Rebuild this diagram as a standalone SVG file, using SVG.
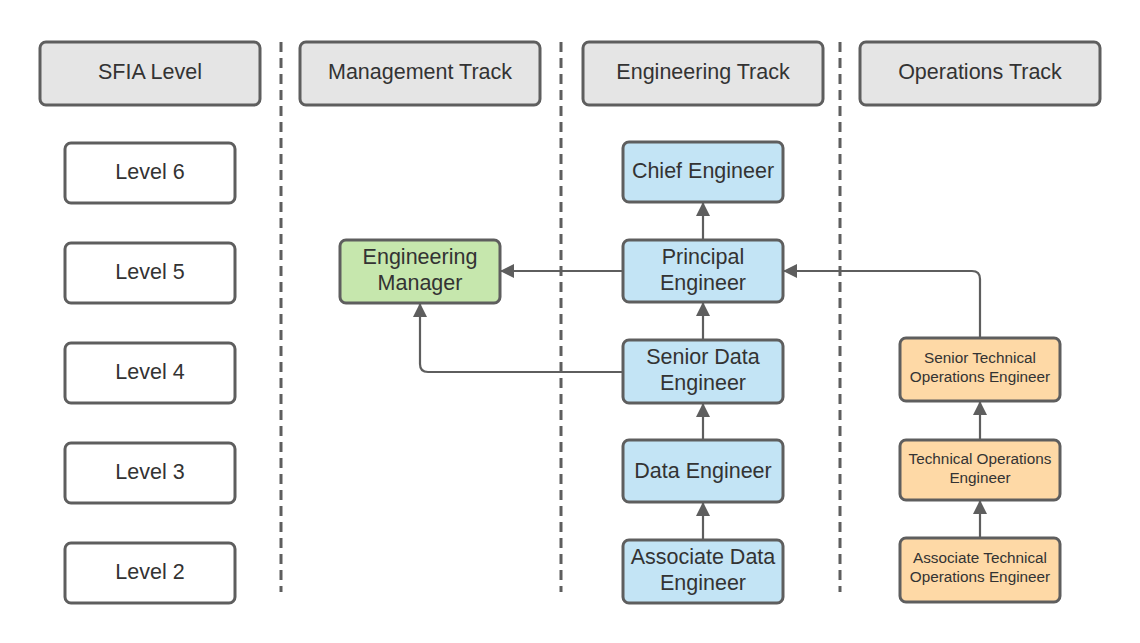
<svg xmlns="http://www.w3.org/2000/svg" width="1140" height="643" viewBox="0 0 1140 643">
<defs>
<style>
.hdr{fill:#e5e5e5;stroke:#5e5e5e;stroke-width:3}
.lvl{fill:#ffffff;stroke:#5e5e5e;stroke-width:3}
.eng{fill:#c3e4f5;stroke:#5e5e5e;stroke-width:3}
.mgr{fill:#c6e7ad;stroke:#5e5e5e;stroke-width:3}
.ops{fill:#fed9a6;stroke:#5e5e5e;stroke-width:3}
text{font-family:"Liberation Sans",Arial,sans-serif;fill:#333333;text-anchor:middle}
.t20{font-size:21.5px}
.t14{font-size:15.3px}
.dash{stroke:#5e5e5e;stroke-width:3;stroke-dasharray:10 6;fill:none}
.conn{stroke:#5e5e5e;stroke-width:2.2;fill:none}
</style>
<marker id="arr" viewBox="0 0 14 14" refX="13" refY="7" markerWidth="14" markerHeight="14" markerUnits="userSpaceOnUse" orient="auto">
<path d="M0,0 L14,7 L0,14 Z" fill="#5e5e5e"/>
</marker>
</defs>
<rect width="1140" height="643" fill="#ffffff"/>

<g id="headers">
<g id="h-sfia"><rect class="hdr" x="40" y="42" width="220" height="63" rx="6"/><text class="t20" x="150" y="79">SFIA Level</text></g>
<g id="h-mgmt"><rect class="hdr" x="300" y="42" width="240" height="63" rx="6"/><text class="t20" x="420" y="79">Management Track</text></g>
<g id="h-eng"><rect class="hdr" x="583" y="42" width="240" height="63" rx="6"/><text class="t20" x="703" y="79">Engineering Track</text></g>
<g id="h-ops"><rect class="hdr" x="860" y="42" width="240" height="63" rx="6"/><text class="t20" x="980" y="79">Operations Track</text></g>
</g>

<g id="connectors">
<line class="conn" x1="703" y1="240" x2="703" y2="203" marker-end="url(#arr)"/>
<line class="conn" x1="623" y1="271" x2="501" y2="271" marker-end="url(#arr)"/>
<path class="conn" d="M623,372 L428,372 Q420,372 420,364 L420,304" marker-end="url(#arr)"/>
<line class="conn" x1="703" y1="340" x2="703" y2="303" marker-end="url(#arr)"/>
<line class="conn" x1="703" y1="440" x2="703" y2="404" marker-end="url(#arr)"/>
<line class="conn" x1="703" y1="540" x2="703" y2="503" marker-end="url(#arr)"/>
<path class="conn" d="M980,338 L980,279 Q980,271 972,271 L784,271" marker-end="url(#arr)"/>
<line class="conn" x1="980" y1="440" x2="980" y2="402" marker-end="url(#arr)"/>
<line class="conn" x1="980" y1="538" x2="980" y2="501" marker-end="url(#arr)"/>
</g>

<g id="dividers">
<line class="dash" x1="281" y1="42" x2="281" y2="592"/>
<line class="dash" x1="561" y1="42" x2="561" y2="592"/>
<line class="dash" x1="840" y1="42" x2="840" y2="592"/>
</g>

<g id="levels">
<g id="level6"><rect class="lvl" x="65" y="143" width="170" height="60" rx="6"/><text class="t20" x="150" y="179">Level 6</text></g>
<g id="level5"><rect class="lvl" x="65" y="243" width="170" height="60" rx="6"/><text class="t20" x="150" y="279">Level 5</text></g>
<g id="level4"><rect class="lvl" x="65" y="343" width="170" height="60" rx="6"/><text class="t20" x="150" y="379">Level 4</text></g>
<g id="level3"><rect class="lvl" x="65" y="443" width="170" height="60" rx="6"/><text class="t20" x="150" y="479">Level 3</text></g>
<g id="level2"><rect class="lvl" x="65" y="543" width="170" height="60" rx="6"/><text class="t20" x="150" y="579">Level 2</text></g>
</g>

<g id="eng-manager"><rect class="mgr" x="340" y="240" width="160" height="63" rx="6"/><text class="t20" x="420" y="264">Engineering</text><text class="t20" x="420" y="290">Manager</text></g>

<g id="chief-engineer"><rect class="eng" x="623" y="142" width="160" height="60" rx="6"/><text class="t20" x="703" y="178">Chief Engineer</text></g>
<g id="principal-engineer"><rect class="eng" x="623" y="240" width="160" height="62" rx="6"/><text class="t20" x="703" y="264">Principal</text><text class="t20" x="703" y="290">Engineer</text></g>
<g id="senior-data-engineer"><rect class="eng" x="623" y="340" width="160" height="63" rx="6"/><text class="t20" x="703" y="364">Senior Data</text><text class="t20" x="703" y="390">Engineer</text></g>
<g id="data-engineer"><rect class="eng" x="623" y="440" width="160" height="62" rx="6"/><text class="t20" x="703" y="478">Data Engineer</text></g>
<g id="associate-data-engineer"><rect class="eng" x="623" y="540" width="160" height="63" rx="6"/><text class="t20" x="703" y="564">Associate Data</text><text class="t20" x="703" y="590">Engineer</text></g>

<g id="senior-tech-ops"><rect class="ops" x="900" y="338" width="160" height="63" rx="6"/><text class="t14" x="980" y="363">Senior Technical</text><text class="t14" x="980" y="382">Operations Engineer</text></g>
<g id="tech-ops"><rect class="ops" x="900" y="440" width="160" height="60" rx="6"/><text class="t14" x="980" y="464">Technical Operations</text><text class="t14" x="980" y="483">Engineer</text></g>
<g id="associate-tech-ops"><rect class="ops" x="900" y="538" width="160" height="64" rx="6"/><text class="t14" x="980" y="563">Associate Technical</text><text class="t14" x="980" y="582">Operations Engineer</text></g>
</svg>
